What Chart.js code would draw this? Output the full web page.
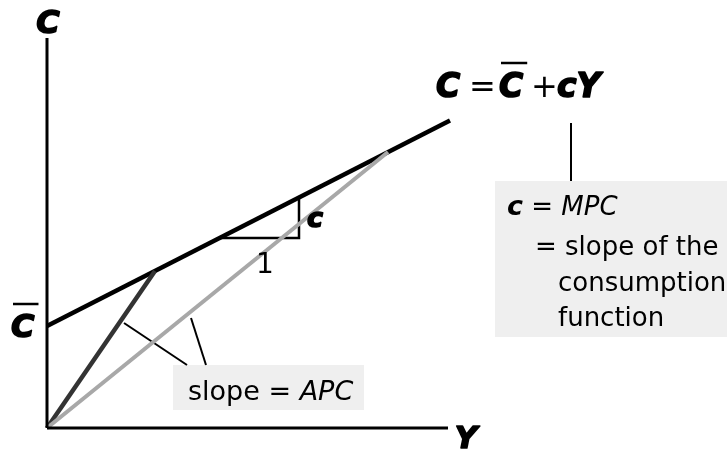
<!DOCTYPE html>
<html>
<head>
<meta charset="utf-8">
<script src="https://cdn.jsdelivr.net/npm/chart.js@4.4.1/dist/chart.umd.min.js"></script>
<style>
  html, body { margin: 0; padding: 0; background: #fff; }
  #wrap { width: 727px; height: 451px; }
</style>
</head>
<body>
<div id="wrap"><canvas id="chart"></canvas></div>
<script>
// Line data (x = income Y, y = consumption C)
const axisX = [0, 40.1];
const axisY = [0, 39];
const consumptionX = [0, 40.3];
const consumptionY = [10.2, 30.75];
const apcRayX = [0, 34.1];
const apcRayY = [0, 27.6];
const steepRayX = [0, 10.8];
const steepRayY = [0, 15.7];
const stepX = [17.3, 25.2, 25.2];
const stepY = [19.0, 19.0, 23.05];
const pointerAX = [7.7, 14.0];
const pointerAY = [10.5, 6.3];
const pointerBX = [14.4, 15.9];
const pointerBY = [11.0, 6.3];
const mpcLeaderX = [52.4, 52.4];
const mpcLeaderY = [30.5, 24.7];

const FONT = '"DejaVu Sans", Verdana, Tahoma, sans-serif';
const BOLD = (s) => `italic bold ${s}px ${FONT}`;
const REG = (s) => `${s}px ${FONT}`;
const ITAL = (s) => `italic ${s}px ${FONT}`;

const pts = (xs, ys) => xs.map((x, i) => ({ x: x, y: ys[i] }));

function lineSet(data, color, width) {
  return {
    data: data,
    showLine: true,
    borderColor: color,
    borderWidth: width,
    pointRadius: 0,
    fill: false,
    clip: false,
    tension: 0,
  };
}

// boxes and texts, positioned in data units
const boxes = [
  { x0: 12.6, y0: 6.3, x1: 31.7, y1: 1.8 },
  { x0: 44.8, y0: 24.7, x1: 68.5, y1: 9.1 },
];

// heavy = extra stroke to get the very bold look of the original
const labels = [
  { x: 0.1, y: 39.5, align: "center", heavy: true, runs: [["C", BOLD(32)]] },
  { x: 41.9, y: -2.0, align: "center", heavy: true, runs: [["Y", BOLD(31)]] },
  { x: -3.6, y: 9.1, heavy: true, bar: 33, runs: [["C", BOLD(32)]] },
  // equation
  { x: 38.9, y: 33.1, heavy: true, runs: [["C", BOLD(33)]] },
  { x: 42.2, y: 33.1, runs: [["=", REG(32)]] },
  { x: 45.2, y: 33.1, heavy: true, bar: 34, runs: [["C", BOLD(33)]] },
  { x: 48.4, y: 33.1, runs: [["+", REG(32)]] },
  { x: 51.0, y: 33.1, heavy: true, runs: [["cY", BOLD(33)]] },
  // slope triangle
  { x: 26.0, y: 20.1, heavy: true, runs: [["c", BOLD(27)]] },
  { x: 21.8, y: 15.5, align: "center", runs: [["1", REG(28)]] },
  // APC box
  { x: 14.1, y: 2.8, runs: [["slope = ", REG(27)], ["APC", ITAL(27)]] },
  // MPC box
  { x: 46.0, y: 21.3, runs: [["c", BOLD(27)], [" = ", REG(26)], ["MPC", ITAL(26)]] },
  { x: 48.8, y: 17.3, runs: [["= slope of the", REG(26)]] },
  { x: 51.1, y: 13.7, runs: [["consumption", REG(26)]] },
  { x: 51.1, y: 10.2, runs: [["function", REG(26)]] },
];

const annotate = {
  id: "annotate",
  beforeDatasetsDraw(chart) {
    const { ctx, scales } = chart;
    ctx.save();
    ctx.fillStyle = "#efefef";
    for (const b of boxes) {
      const px0 = scales.x.getPixelForValue(b.x0);
      const py0 = scales.y.getPixelForValue(b.y0);
      const px1 = scales.x.getPixelForValue(b.x1);
      const py1 = scales.y.getPixelForValue(b.y1);
      ctx.fillRect(px0, py0, px1 - px0, py1 - py0);
    }
    ctx.restore();
  },
  afterDatasetsDraw(chart) {
    const { ctx, scales } = chart;
    ctx.save();
    ctx.fillStyle = "#000";
    ctx.strokeStyle = "#000";
    ctx.lineJoin = "round";
    ctx.textBaseline = "alphabetic";
    ctx.textAlign = "left";
    for (const l of labels) {
      let x = scales.x.getPixelForValue(l.x);
      const y = scales.y.getPixelForValue(l.y);
      let total = 0;
      for (const [t, f] of l.runs) {
        ctx.font = f;
        total += ctx.measureText(t).width;
      }
      if (l.align === "center") x -= total / 2;
      const start = x;
      for (const [t, f] of l.runs) {
        ctx.font = f;
        ctx.fillText(t, x, y);
        if (l.heavy) {
          ctx.lineWidth = 1.6;
          ctx.strokeText(t, x, y);
        }
        x += ctx.measureText(t).width;
      }
      if (l.bar) {
        // overbar for C-bar
        ctx.lineWidth = 2.5;
        ctx.beginPath();
        ctx.moveTo(start + 2, y - l.bar);
        ctx.lineTo(start + total + 4, y - l.bar);
        ctx.stroke();
      }
    }
    ctx.restore();
  },
};

new Chart(document.getElementById("chart"), {
  type: "scatter",
  data: {
    datasets: [
      lineSet(pts([0, 0], [axisY[1], axisY[0]]), "#000", 3),
      lineSet(pts(axisX, [0, 0]), "#000", 3),
      lineSet(pts(apcRayX, apcRayY), "#a8a8a8", 4),
      lineSet(pts(steepRayX, steepRayY), "#333333", 4.5),
      lineSet(pts(consumptionX, consumptionY), "#000", 4.5),
      lineSet(pts(stepX, stepY), "#000", 2.5),
      lineSet(pts(pointerAX, pointerAY), "#000", 2),
      lineSet(pts(pointerBX, pointerBY), "#000", 2),
      lineSet(pts(mpcLeaderX, mpcLeaderY), "#000", 2),
    ],
  },
  options: {
    responsive: true,
    maintainAspectRatio: false,
    animation: false,
    events: [],
    layout: { padding: { left: 47, right: 0, top: 0, bottom: 23 } },
    plugins: {
      legend: { display: false },
      tooltip: { enabled: false },
    },
    scales: {
      x: { type: "linear", min: 0, max: 68, display: false },
      y: { type: "linear", min: 0, max: 42.8, display: false },
    },
  },
  plugins: [annotate],
});
</script>
</body>
</html>
